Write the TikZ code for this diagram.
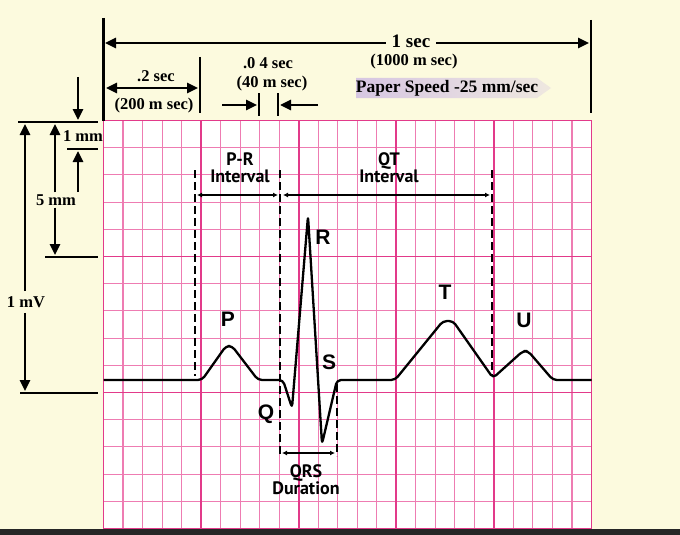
\documentclass[tikz,border=0pt]{standalone}
\usepackage{fontspec}
\setmainfont{Liberation Serif}
\setsansfont{Liberation Sans}
\newfontfamily\ptsans{PT Sans}
\usetikzlibrary{arrows.meta}

\definecolor{paper}{RGB}{252,250,222}
\definecolor{minorpink}{RGB}{238,124,178}
\definecolor{majorpink}{RGB}{226,58,138}
\definecolor{speedfill}{RGB}{214,198,226}
\definecolor{barcol}{RGB}{38,38,38}

\tikzset{
  minor/.style={minorpink, line width=1.1pt},
  major/.style={majorpink, line width=1.8pt},
  ecg/.style={line width=2.3pt, rounded corners=4pt, line join=round},
  guide/.style={line width=1.6pt, dash pattern=on 8pt off 4pt},
  dimline/.style={line width=2.6pt},
  dimarrow/.style={line width=2.6pt, -{Triangle[length=11pt,width=10pt]}},
  dimboth/.style={line width=2.6pt, {Triangle[length=11pt,width=10pt]}-{Triangle[length=11pt,width=10pt]}},
  ivl/.style={line width=1.8pt, {Latex[length=5pt,width=5pt]}-{Latex[length=5pt,width=5pt]}},
  dimtext/.style={font=\bfseries\fontsize{16.5}{17}\selectfont, inner sep=1pt},
  ivltext/.style={font=\ptsans\bfseries\fontsize{18}{17}\selectfont, align=center, inner sep=0pt},
  wave/.style={font=\sffamily\bfseries\fontsize{21}{21}\selectfont, inner sep=0pt}
}

\begin{document}
\begin{tikzpicture}[x=1pt,y=-1pt]
\useasboundingbox (0,0) rectangle (680,535);
\fill[paper] (0,0) rectangle (680,535);

% chart paper
\fill[white] (103.5,120.5) rectangle (591.5,528.5);
\foreach \i in {0,...,25}
  \draw[minor] ({103.5+19.52*\i},120.5) -- ++(0,408);
\foreach \j in {0,...,15}
  \draw[minor] (103.5,{120.5+27.2*\j}) -- ++(488,0);
\foreach \i in {0,...,5}
  \draw[major] ({103.5+97.6*\i},120.5) -- ++(0,408);
\foreach \j in {0,...,3}
  \draw[major] (103.5,{120.5+136*\j}) -- ++(488,0);
\fill[barcol] (0,529) rectangle (680,535);

% interval guides
\draw[guide] (195,170) -- (195,376);
\draw[guide] (280,170) -- (280,456);
\draw[guide] (337,384) -- (337,456);
\draw[guide] (492,170) -- (492,376);

\node[ivltext] (prtext) at (240,168) {P-R\\Interval};
\node[ivltext] (qttext) at (389,168) {QT\\Interval};
\node[ivltext] (qrstext) at (306,480) {QRS\\Duration};
\draw[ivl] (197,195) -- (278,195);
\draw[ivl] (283,195) -- (490,195);
\draw[ivl] (282,453) -- (335,453);

% trace
\draw[ecg] (103.5,380) -- (202,380) -- (226,346) -- (232,346) -- (258,380)
  -- (283,380) -- (292,408) -- (308,216) -- (322,444) -- (337,380)
  -- (395,380) -- (443,321) -- (453,321) -- (493,378) -- (523,351)
  -- (528,351) -- (553,380) -- (591.5,380);

\node[wave] (p) at (228,319) {P};
\node[wave] (q) at (266,414) {Q};
\node[wave] (r) at (323,237) {R};
\node[wave] (s) at (329,362) {S};
\node[wave] (t) at (445,292) {T};
\node[wave] (u) at (524,320) {U};

% time scale
\coordinate (onel) at (105,43);
\coordinate (oner) at (589,43);
\draw[dimline] (103.5,18) -- (103.5,121);
\draw[dimline] (591,20) -- (591,113);
\node[dimtext, font=\bfseries\fontsize{19}{19}\selectfont, inner xsep=6pt] (onesec) at (411,41) {1 sec};
\node[dimtext] (onems) at (414,62) {(1000 m sec)};
\draw[dimarrow] (onesec.west |- onel) -- (onel);
\draw[dimarrow] (onesec.east |- oner) -- (oner);

\shade[left color=speedfill, right color=speedfill!35!paper]
  (356,78) -- (537,78) -- (551,88) -- (537,98) -- (356,98) -- cycle;
\node[dimtext, font=\bfseries\fontsize{17.5}{18}\selectfont] (speed) at (447,88) {Paper Speed -25 mm/sec};

\coordinate (twol) at (106,88);
\coordinate (twor) at (198,88);
\draw[dimline] (200,57) -- (200,113);
\node[dimtext] (twosec) at (156,76) {.2 sec};
\node[dimtext] (twoms) at (154,106) {(200 m sec)};
\draw[dimboth] (twol) -- (twor);

\coordinate (fourl) at (259,105);
\coordinate (fourr) at (278,105);
\node[dimtext, inner sep=0pt] (foursec) at (268,63) {.0 4 sec};
\node[dimtext, inner sep=0pt] (fourms) at (272,84) {(40 m sec)};
\draw[dimline] (259,93) -- (259,116);
\draw[dimline] (278,93) -- (278,116);
\draw[dimarrow] (222,105) -- ([xshift=-2pt]fourl);
\draw[dimarrow] (318,105) -- ([xshift=2pt]fourr);

% amplitude scale
\draw[dimline] (18,122) -- (98,122);
\draw[dimline] (67,149) -- (98,149);
\draw[dimline] (45,257) -- (98,257);
\draw[dimline] (20,393) -- (98,393);
\node[dimtext, inner ysep=5pt] (mv) at (26,302) {1 mV};
\draw[dimarrow] (mv.north -| 25,0) -- (25,124);
\draw[dimarrow] (mv.south -| 25,0) -- (25,391);
\node[dimtext, inner ysep=2pt] (fivemm) at (56,200) {5 mm};
\draw[dimarrow] (fivemm.north -| 55,0) -- (55,124);
\draw[dimarrow] (fivemm.south -| 55,0) -- (55,255);
\node[dimtext] (onemm) at (83,136) {1 mm};
\draw[dimarrow] (78,77) -- (78,120);
\draw[dimarrow] (78,192) -- (78,151);
\end{tikzpicture}
\end{document}
